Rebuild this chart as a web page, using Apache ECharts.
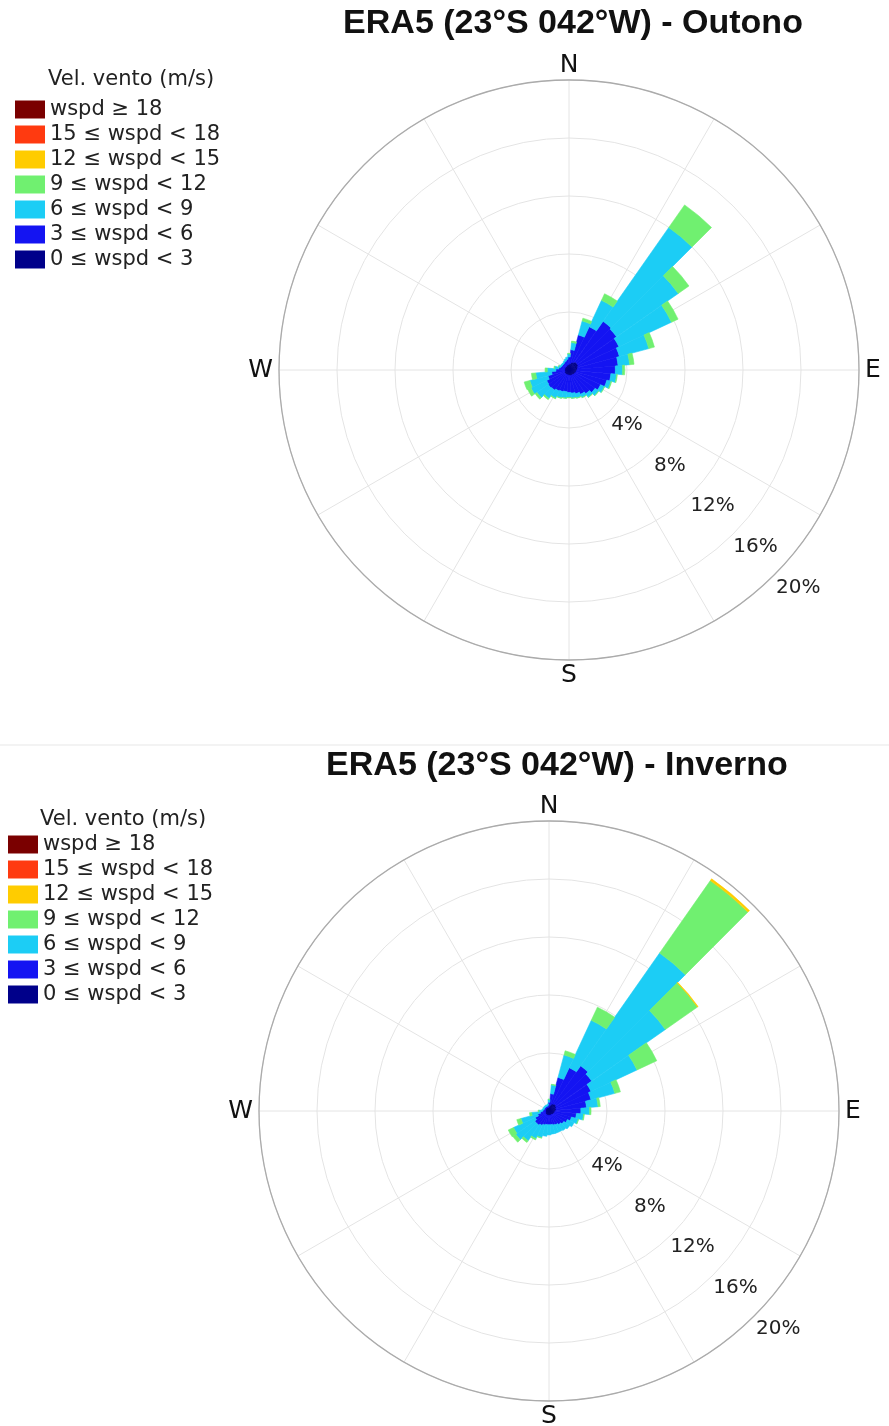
<!DOCTYPE html>
<html lang="pt">
<head>
    <meta charset="UTF-8">
    <title>ERA5 - rosa dos ventos</title>
    <style>
        body{ margin:0; background:#fff; }
        #main{ width:889px; height:1426px; }
    </style>
    <script src="https://cdn.jsdelivr.net/npm/echarts@6/dist/echarts.min.js"></script>
</head>
<body>
<div id="main"></div>
<script>
    // direcoes (graus), bins de 10
    var dirs = [0,10,20,30,40,50,60,70,80,90,100,110,120,130,140,150,160,170,
                180,190,200,210,220,230,240,250,260,270,280,290,300,310,320,330,340,350];

    var classes = ['0 ≤ wspd < 3','3 ≤ wspd < 6','6 ≤ wspd < 9','9 ≤ wspd < 12',
                   '12 ≤ wspd < 15','15 ≤ wspd < 18','wspd ≥ 18'];
    var cores = ['#00008a','#1414f2','#1ccdf5','#70f070','#ffcc00','#ff3a10','#7a0000'];
    var rTicks = [4,8,12,16,20];

    // Outono (% por classe)
    var out0_3   = [.4,.45,.55,.6,.7,.7,.7,.65,.6,.55,.5,.5,.45,.45,.4,.4,.4,.4,.35,.35,.35,.35,.35,.35,.35,.3,.3,.3,.3,.3,.3,.3,.3,.3,.35,.35];
    var out3_6   = [.5,.95,1.95,2.7,3.4,3.3,3.1,2.95,2.8,2.65,2.4,2.2,1.95,1.75,1.6,1.45,1.3,1.2,1.2,1.15,1.2,1.25,1.35,1.4,1.35,1.2,.9,.6,.4,.3,.25,.25,.25,.3,.3,.4];
    var out6_9   = [.2,.5,1.0,2.0,7.9,5.2,4.0,2.1,.8,.5,.4,.3,.3,.3,.3,.25,.3,.35,.35,.45,.45,.55,.7,.95,1.2,1.3,1.1,.6,.3,.15,.1,.1,.1,.1,.15,.15];
    var out9_12  = [.05,.1,.2,.5,1.9,.9,.5,.4,.3,.15,.05,.05,.02,.02,.02,.02,.02,.02,.02,.02,.03,.05,.1,.15,.25,.4,.3,.15,.05,.02,0,0,0,0,0,0];
    var out12_15 = [0,0,0,0,0,0,0,0,0,0,0,0,0,0,0,0,0,0,0,0,0,0,0,0,0,0,0,0,0,0,0,0,0,0,0,0];
    var out15_18 = [0,0,0,0,0,0,0,0,0,0,0,0,0,0,0,0,0,0,0,0,0,0,0,0,0,0,0,0,0,0,0,0,0,0,0,0];
    var out18    = [0,0,0,0,0,0,0,0,0,0,0,0,0,0,0,0,0,0,0,0,0,0,0,0,0,0,0,0,0,0,0,0,0,0,0,0];

    // Inverno (% por classe)
    var inv0_3   = [.3,.4,.5,.55,.6,.6,.55,.5,.5,.45,.4,.4,.35,.35,.3,.3,.3,.3,.3,.3,.3,.3,.3,.3,.25,.25,.25,.25,.25,.25,.25,.25,.25,.25,.25,.25];
    var inv3_6   = [.3,.8,1.9,2.75,3.2,3.0,2.65,2.5,2.1,1.75,1.5,1.2,1.05,.9,.85,.75,.7,.65,.65,.65,.7,.8,.9,.9,.8,.55,.35,.2,.15,.1,.1,.1,.1,.1,.1,.15];
    var inv6_9   = [.2,.6,1.6,3.6,9.5,6.2,3.5,1.7,.8,.6,.5,.5,.5,.5,.5,.55,.6,.65,.7,.8,.9,1.0,1.3,1.6,1.65,1.2,.6,.25,.1,.1,.1,.1,.1,.1,.1,.1];
    var inv9_12  = [.02,.05,.3,1.0,6.1,2.7,1.5,.4,.15,.1,.05,.02,0,0,0,0,0,0,0,0,.05,.1,.15,.25,.4,.3,.15,.05,0,0,0,0,0,0,0,0];
    var inv12_15 = [0,0,0,0,.15,.05,0,0,0,0,0,0,0,0,0,0,0,0,0,0,0,0,0,0,0,0,0,0,0,0,0,0,0,0,0,0];
    var inv15_18 = [0,0,0,0,0,0,0,0,0,0,0,0,0,0,0,0,0,0,0,0,0,0,0,0,0,0,0,0,0,0,0,0,0,0,0,0];
    var inv18    = [0,0,0,0,0,0,0,0,0,0,0,0,0,0,0,0,0,0,0,0,0,0,0,0,0,0,0,0,0,0,0,0,0,0,0,0];

    var outono  = [out0_3,out3_6,out6_9,out9_12,out12_15,out15_18,out18];
    var inverno = [inv0_3,inv3_6,inv6_9,inv9_12,inv12_15,inv15_18,inv18];

    var chart = echarts.init(document.getElementById('main'));

    var cardeal = {0:'N',90:'E',180:'S',270:'W'};
    var fonte = '"Liberation Sans", Arial, Helvetica, sans-serif';
    var fonteLarga = '"DejaVu Sans", sans-serif';

    function polares(cx, cy){
        return [
            {center:[cx,cy], radius:290},   // grade
            {center:[cx,cy], radius:290},   // barras
            {center:[cx,cy], radius:316}    // rotulos %
        ];
    }

    function eixosAngulo(base){
        return [
            {polarIndex:base, type:'value', min:0, max:360, interval:30, startAngle:90, clockwise:true,
                axisLine:{lineStyle:{color:'#ababab', width:1.3}},
                axisTick:{show:false},
                splitLine:{lineStyle:{color:'#e4e4e4', width:1}},
                axisLabel:{margin:6, fontSize:25, lineHeight:18, color:'#111', fontFamily:fonteLarga,
                    formatter:function(v){ return cardeal[v] || ''; }}},
            {polarIndex:base+1, type:'category', data:dirs, startAngle:95, clockwise:true,
                axisLine:{show:false}, axisTick:{show:false}, axisLabel:{show:false}, splitLine:{show:false}},
            {polarIndex:base+2, type:'value', min:0, max:360, startAngle:-43.5, show:false}
        ];
    }

    function eixosRaio(base){
        return [
            {polarIndex:base, type:'value', min:0, max:20, interval:4,
                axisLine:{show:false}, axisTick:{show:false}, axisLabel:{show:false},
                splitLine:{lineStyle:{color:'#e4e4e4', width:1}}},
            {polarIndex:base+1, type:'value', min:0, max:20, show:false},
            {polarIndex:base+2, type:'value', min:-1.42, max:20,
                axisLine:{show:false}, axisTick:{show:false}, splitLine:{show:false},
                axisLabel:{customValues:rTicks, margin:0, fontSize:20, color:'#222', fontFamily:fonteLarga,
                    align:'center', verticalAlign:'middle',
                    formatter:function(v){ return v + '%'; }}}
        ];
    }

    // zeros ficam vazios para nao desenhar contorno
    function semZero(arr){
        return arr.map(function(v){ return v === 0 ? '-' : v; });
    }

    var series = [];
    classes.forEach(function(nome, i){
        var estilo = {color:cores[i], borderColor:cores[i], borderWidth:0.6};
        series.push({name:nome, type:'bar', coordinateSystem:'polar', polarIndex:1, stack:'outono',
            data:semZero(outono[i]), barCategoryGap:'0%', itemStyle:estilo, z:3});
        series.push({name:nome, type:'bar', coordinateSystem:'polar', polarIndex:4, stack:'inverno',
            data:semZero(inverno[i]), barCategoryGap:'0%', itemStyle:estilo, z:3});
    });

    var legendaNomes = classes.slice().reverse();
    var legendaBase = {orient:'vertical', icon:'rect', itemWidth:30, itemHeight:18, itemGap:4,
        itemTextGap:0, data:legendaNomes, selectedMode:false,
        itemStyle:{borderWidth:0},
        textStyle:{fontSize:21, color:'#222', fontFamily:fonteLarga}};

    var option = {
        animation:false,
        textStyle:{fontFamily:fonte},
        title:[
            {text:'ERA5 (23°S 042°W) - Outono', left:568, top:2, textAlign:'center',
                textStyle:{fontSize:34, fontWeight:'bold', color:'#111', fontFamily:fonte}},
            {text:'Vel. vento (m/s)', left:43, top:64,
                textStyle:{fontSize:21, fontWeight:'normal', color:'#222', fontFamily:fonteLarga}},
            {text:'ERA5 (23°S 042°W) - Inverno', left:552, top:744, textAlign:'center',
                textStyle:{fontSize:34, fontWeight:'bold', color:'#111', fontFamily:fonte}},
            {text:'Vel. vento (m/s)', left:35, top:804,
                textStyle:{fontSize:21, fontWeight:'normal', color:'#222', fontFamily:fonteLarga}}
        ],
        graphic:[
            // divisao leve entre as duas figuras
            {type:'rect', left:0, top:744, shape:{width:889, height:2}, style:{fill:'#f3f3f3'}, silent:true}
        ],
        legend:[
            Object.assign({left:10, top:94}, legendaBase),
            Object.assign({left:3, top:829}, legendaBase)
        ],
        polar: polares(569,370).concat(polares(549,1111)),
        angleAxis: eixosAngulo(0).concat(eixosAngulo(3)),
        radiusAxis: eixosRaio(0).concat(eixosRaio(3)),
        series: series
    };
    chart.setOption(option);
</script>
</body>
</html>
